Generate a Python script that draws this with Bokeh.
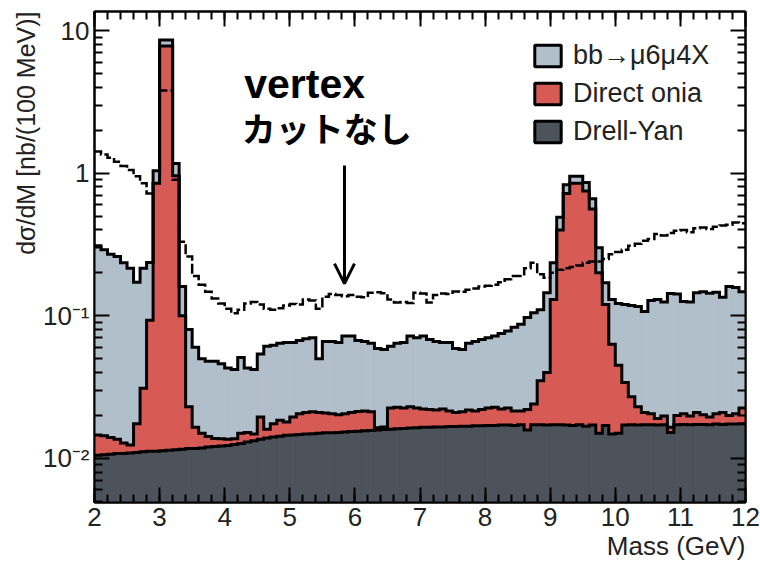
import numpy as np
from bokeh.plotting import figure
from bokeh.models import (Range1d, FixedTicker, LinearAxis, LogAxis, Title,
                          Legend, LegendItem, Arrow, OpenHead, Label,
                          CustomJSTickFormatter)
from bokeh.embed import file_html
from bokeh.resources import INLINE

# Dimuon invariant-mass spectrum, 100 MeV bins from 2 to 12 GeV
MASS_LO = 2.0
BIN_WIDTH = 0.1

# Drell-Yan (bottom of the stack), nb per 100 MeV
drell_yan = [
    0.0105, 0.0106, 0.0107, 0.0108, 0.0108, 0.0109, 0.0110, 0.0111, 0.0112, 0.0112,
    0.0113, 0.0114, 0.0115, 0.0116, 0.0117, 0.0117, 0.0118, 0.0120, 0.0121, 0.0122,
    0.0123, 0.0125, 0.0127, 0.0130, 0.0133, 0.0136, 0.0139, 0.0141, 0.0143, 0.0145,
    0.0146, 0.0147, 0.0148, 0.0149, 0.0150, 0.0151, 0.0151, 0.0152, 0.0153, 0.0154,
    0.0155, 0.0156, 0.0157, 0.0158, 0.0159, 0.0160, 0.0161, 0.0162, 0.0163, 0.0164,
    0.0165, 0.0165, 0.0166, 0.0166, 0.0167, 0.0167, 0.0168, 0.0168, 0.0169, 0.0169,
    0.0170, 0.0170, 0.0171, 0.0171, 0.0170, 0.0172, 0.0158, 0.0172, 0.0172, 0.0171,
    0.0172, 0.0172, 0.0171, 0.0170, 0.0172, 0.0168, 0.0171, 0.0150, 0.0170, 0.0148,
    0.0150, 0.0171, 0.0172, 0.0171, 0.0172, 0.0172, 0.0171, 0.0172, 0.0152, 0.0172,
    0.0173, 0.0172, 0.0173, 0.0173, 0.0172, 0.0174, 0.0173, 0.0174, 0.0174, 0.0175,
]

# Drell-Yan + direct onia (top of the red layer)
onia_stack = [
    0.0146, 0.0144, 0.0140, 0.0136, 0.0128, 0.0124, 0.0175, 0.031, 0.093, 0.85,
    7.8, 7.8, 0.96, 0.10, 0.023, 0.0165, 0.0150, 0.0142, 0.0138, 0.0137,
    0.0136, 0.0137, 0.0150, 0.0152, 0.0148, 0.0195, 0.0160, 0.0175, 0.0185, 0.0180,
    0.0195, 0.0205, 0.0210, 0.0212, 0.0210, 0.0208, 0.0205, 0.0202, 0.0205, 0.0210,
    0.0213, 0.0215, 0.0212, 0.0164, 0.0166, 0.0225, 0.0228, 0.0225, 0.0230, 0.0225,
    0.0222, 0.0220, 0.0218, 0.0222, 0.0215, 0.0210, 0.0212, 0.0218, 0.0215, 0.0220,
    0.0225, 0.0228, 0.0222, 0.0225, 0.0215, 0.0215, 0.0220, 0.0240, 0.035, 0.040,
    0.13, 0.40, 0.72, 0.85, 0.85, 0.75, 0.56, 0.20, 0.12, 0.063,
    0.045, 0.034, 0.027, 0.023, 0.021, 0.0205, 0.0190, 0.0198, 0.0165, 0.0200,
    0.0205, 0.0198, 0.0210, 0.0202, 0.0195, 0.0205, 0.0210, 0.0200, 0.0205, 0.0225,
]

# Full stack including bb -> mu6 mu4 X (top of the blue layer)
bb_stack = [
    0.31, 0.29, 0.27, 0.26, 0.235, 0.215, 0.172, 0.215, 0.236, 1.04,
    8.6, 8.6, 1.17, 0.16, 0.080, 0.060, 0.050, 0.048, 0.048, 0.046,
    0.043, 0.042, 0.051, 0.043, 0.042, 0.054, 0.061, 0.062, 0.064, 0.065,
    0.065, 0.067, 0.069, 0.070, 0.050, 0.066, 0.066, 0.065, 0.072, 0.072,
    0.067, 0.066, 0.064, 0.059, 0.058, 0.061, 0.064, 0.065, 0.072, 0.070,
    0.072, 0.068, 0.066, 0.065, 0.065, 0.059, 0.058, 0.064, 0.066, 0.068,
    0.070, 0.072, 0.075, 0.078, 0.083, 0.087, 0.097, 0.105, 0.110, 0.145,
    0.235, 0.49, 0.83, 0.95, 0.95, 0.86, 0.66, 0.30, 0.17, 0.13,
    0.122, 0.120, 0.118, 0.116, 0.107, 0.128, 0.130, 0.125, 0.143, 0.142,
    0.126, 0.125, 0.145, 0.147, 0.144, 0.146, 0.135, 0.160, 0.158, 0.147,
]

# Spectrum without the vertex cut (dashed)
no_vertex_cut = [
    1.42, 1.35, 1.28, 1.20, 1.12, 1.05, 0.95, 0.85, 0.72, 0.85,
    3.8, 3.8, 0.90, 0.33, 0.26, 0.19, 0.165, 0.147, 0.132, 0.122,
    0.112, 0.104, 0.110, 0.122, 0.125, 0.120, 0.112, 0.110, 0.113, 0.118,
    0.121, 0.120, 0.130, 0.128, 0.112, 0.136, 0.142, 0.140, 0.137, 0.140,
    0.136, 0.135, 0.145, 0.146, 0.144, 0.130, 0.124, 0.125, 0.123, 0.145,
    0.143, 0.124, 0.140, 0.143, 0.142, 0.148, 0.147, 0.152, 0.155, 0.160,
    0.162, 0.165, 0.172, 0.180, 0.190, 0.190, 0.215, 0.235, 0.195, 0.185,
    0.200, 0.210, 0.215, 0.220, 0.225, 0.235, 0.240, 0.240, 0.250, 0.270,
    0.280, 0.290, 0.310, 0.320, 0.335, 0.345, 0.375, 0.365, 0.380, 0.395,
    0.400, 0.385, 0.410, 0.415, 0.405, 0.420, 0.430, 0.435, 0.450, 0.445,
]

legend_labels = ["bb\u2192\u03bc6\u03bc4X", "Direct onia", "Drell-Yan"]
x_major = [2, 3, 4, 5, 6, 7, 8, 9, 10, 11, 12]
y_major = [0.01, 0.1, 1, 10]
y_major_text = {0.01: "10\u207b\u00b2", 0.1: "10\u207b\u00b9", 1: "1", 10: "10"}

BLUE = "#b1bfca"
RED = "#d75a55"
DARK = "#4c535b"
FONT = "Liberation Sans"

n = len(drell_yan)
edges = MASS_LO + BIN_WIDTH * np.arange(n + 1)
left, right = edges[:-1], edges[1:]
floor = np.full(n, 1e-3)


def stepped(vals):
    return np.append(np.asarray(vals, dtype=float), vals[-1])


p = figure(width=760, height=566, x_range=Range1d(2, 12), y_range=Range1d(0.0049, 13.6),
           y_axis_type="log", output_backend="svg", toolbar_location=None,
           min_border_left=94, min_border_right=15, min_border_top=11, min_border_bottom=64)
p.background_fill_color = "white"
p.border_fill_color = "white"
p.outline_line_color = "black"
p.outline_line_width = 2
p.xgrid.visible = False
p.ygrid.visible = False

x_ticker = FixedTicker(ticks=x_major, minor_ticks=list(np.arange(2.0, 12.01, 0.2)))
y_minor = [k * 10.0 ** e for e in range(-3, 2) for k in range(2, 10)]
y_ticker = FixedTicker(ticks=y_major, minor_ticks=y_minor)


def style_axis(ax, labelled):
    ax.axis_line_color = "black"
    ax.axis_line_width = 2
    ax.major_tick_in = 15
    ax.major_tick_out = 0
    ax.minor_tick_in = 8
    ax.minor_tick_out = 0
    ax.major_tick_line_width = 2
    ax.minor_tick_line_width = 2
    ax.major_tick_line_color = "black"
    ax.minor_tick_line_color = "black"
    if labelled:
        ax.major_label_text_font = FONT
        ax.major_label_text_font_size = "26px"
        ax.major_label_text_color = "#222222"
        ax.major_label_standoff = 5
    else:
        ax.formatter = CustomJSTickFormatter(code="return ''")
        ax.major_label_text_font_size = "1px"
        ax.major_label_standoff = 0


p.xaxis.ticker = x_ticker
p.yaxis.ticker = y_ticker
p.yaxis.major_label_overrides = y_major_text
style_axis(p.xaxis[0], True)
style_axis(p.yaxis[0], True)

top_axis = LinearAxis(ticker=x_ticker)
style_axis(top_axis, False)
p.add_layout(top_axis, "above")
right_axis = LogAxis(ticker=y_ticker)
style_axis(right_axis, False)
p.add_layout(right_axis, "right")

p.add_layout(Title(text="Mass (GeV)", align="right", text_font=FONT, text_font_size="26px",
                   text_font_style="normal", text_color="#222222", standoff=0), "below")
p.add_layout(Title(text="d\u03c3/dM [nb/(100 MeV)]", align="right", text_font=FONT,
                   text_font_size="25px", text_font_style="normal", text_color="#222222",
                   standoff=0), "left")

# stacked fills, drawn from the full stack downwards
for vals, colour in ((bb_stack, BLUE), (onia_stack, RED), (drell_yan, DARK)):
    p.quad(left=left, right=right, bottom=floor, top=vals,
           fill_color=colour, line_color=colour, line_width=1)

# histogram outlines
for vals in (bb_stack, onia_stack, drell_yan):
    p.step(x=edges, y=stepped(vals), mode="after", line_color="black",
           line_width=3, line_join="miter")

p.step(x=edges, y=stepped(no_vertex_cut), mode="after", line_color="black",
       line_width=2.5, line_dash="10 3", line_join="miter")

# legend swatches
swatches = []
for colour in (BLUE, RED, DARK):
    swatches.append(p.quad(left=[2.0], right=[2.0], bottom=[1.0], top=[1.0],
                           fill_color=colour, line_color="black", line_width=3))
legend = Legend(items=[LegendItem(label=t, renderers=[r]) for t, r in zip(legend_labels, swatches)],
                location=(437, 355), glyph_width=33, glyph_height=27, spacing=7,
                padding=0, margin=0, label_standoff=9, label_text_font=FONT,
                label_text_font_size="27px", label_text_color="#222222",
                border_line_alpha=0, background_fill_alpha=0)
p.add_layout(legend)

# annotation for the curve without the vertex cut
p.add_layout(Label(x=4.3, y=4.2, text="vertex", text_font=FONT, text_font_style="bold",
                   text_font_size="41px", text_color="black", text_baseline="alphabetic"))
p.add_layout(Label(x=4.26, y=2.1, text="カットなし", text_font="Noto Sans CJK JP",
                   text_font_style="bold", text_font_size="34px", text_color="black",
                   text_baseline="middle"))
p.add_layout(Arrow(end=OpenHead(size=20, line_width=3, line_color="black"),
                   x_start=5.84, y_start=1.13, x_end=5.84, y_end=0.168,
                   line_width=3, line_color="black"))

open("out.html", "w").write(file_html(p, INLINE))
